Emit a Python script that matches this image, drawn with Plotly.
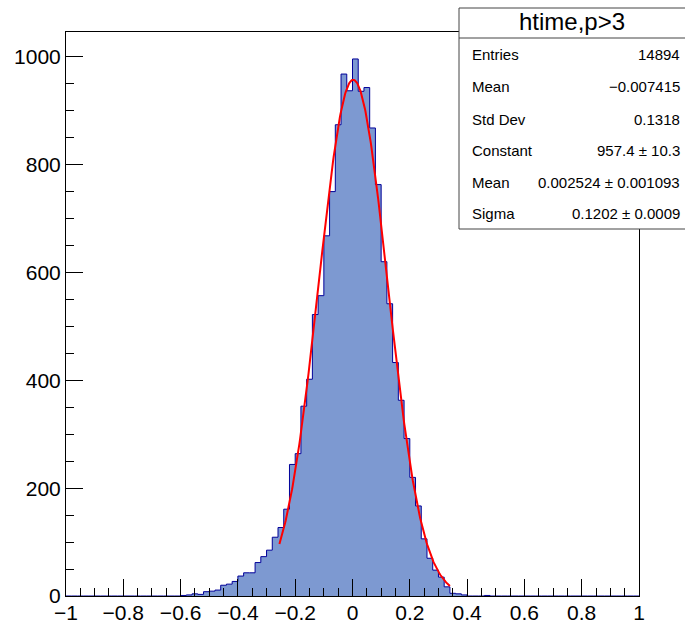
import numpy as np
import plotly.graph_objects as go

# ---------------- data ----------------
x_min, x_max, n_bins = -1.0, 1.0, 100
first_bin = 20  # index of first filled bin (lower edge -0.60)
filled_counts = [1, 2, 4, 3, 8, 9, 11, 20, 22, 27, 37, 43, 43, 62, 73, 85, 109, 127,
                 161, 244, 264, 352, 402, 522, 557, 668, 750, 874, 968, 937, 996,
                 936, 943, 868, 763, 620, 542, 433, 363, 292, 220, 167, 106, 70, 48,
                 35, 17, 5, 4, 2, 0, 0, 0, 1]
x_tick_vals = [-1, -0.8, -0.6, -0.4, -0.2, 0, 0.2, 0.4, 0.6, 0.8, 1]
x_tick_text = ["\u22121", "\u22120.8", "\u22120.6", "\u22120.4", "\u22120.2", "0",
               "0.2", "0.4", "0.6", "0.8", "1"]
y_tick_vals = [0, 200, 400, 600, 800, 1000]
y_tick_text = ["0", "200", "400", "600", "800", "1000"]

# gaussian fit parameters (from stats box) and fit range
fit_const, fit_mean, fit_sigma = 957.4, 0.002524, 0.1202
fit_lo, fit_hi = -0.255, 0.34

stats_title = "htime,p>3"
stats_labels = ["Entries", "Mean", "Std Dev", "Constant", "Mean", "Sigma"]
stats_values = ["14894", "\u22120.007415", "0.1318", "957.4 \u00b1 10.3",
                "0.002524 \u00b1 0.001093", "0.1202 \u00b1 0.0009"]

# ---------------- build ----------------
counts = [0] * first_bin + filled_counts
counts += [0] * (n_bins - len(counts))
edges = np.linspace(x_min, x_max, n_bins + 1)
step_x = list(edges)
step_y = counts + [counts[-1]]

fx = np.linspace(fit_lo, fit_hi, 300)
fy = fit_const * np.exp(-0.5 * ((fx - fit_mean) / fit_sigma) ** 2)

fig = go.Figure()
fig.add_trace(go.Scatter(x=step_x, y=step_y, mode="lines", line_shape="hv",
                         line=dict(color="#000099", width=1),
                         fill="tozeroy", fillcolor="#7d99d1", hoverinfo="skip"))
fig.add_trace(go.Scatter(x=fx, y=fy, mode="lines",
                         line=dict(color="#ff0000", width=2), hoverinfo="skip"))

W, H = 685, 623
L, R, T, B = 66, 46, 32, 27
pw, ph = W - L - R, H - T - B
ymax = 1046

def PX(px):
    return (px - L) / pw

def PY(py):
    return (H - B - py) / ph

font = "Liberation Sans, Arial, Helvetica, sans-serif"

fig.update_layout(
    width=W, height=H, margin=dict(l=L, r=R, t=T, b=B, pad=0, autoexpand=False),
    plot_bgcolor="white", paper_bgcolor="white", showlegend=False,
    font=dict(family=font, color="black"),
    xaxis=dict(range=[x_min, x_max], showline=True, linecolor="black", linewidth=1,
               mirror=True, ticks="inside", ticklen=17, tickwidth=1, tickcolor="black",
               tickmode="array", tickvals=x_tick_vals, ticktext=x_tick_text,
               tickfont=dict(family=font, size=21, color="black"),
               showgrid=False, zeroline=False, automargin=False,
               ticklabelstandoff=-2,
               minor=dict(ticks="inside", ticklen=8, tickwidth=1, tickcolor="black",
                          tickmode="linear", tick0=-1, dtick=0.05, showgrid=False)),
    yaxis=dict(range=[0, ymax], showline=True, linecolor="black", linewidth=1,
               mirror=True, ticks="inside", ticklen=17, tickwidth=1, tickcolor="black",
               tickmode="array", tickvals=y_tick_vals, ticktext=y_tick_text,
               tickfont=dict(family=font, size=21, color="black"),
               showgrid=False, zeroline=False, automargin=False,
               ticklabelstandoff=0,
               minor=dict(ticks="inside", ticklen=8, tickwidth=1, tickcolor="black",
                          tickmode="linear", tick0=0, dtick=50, showgrid=False)),
)

# stats box
fig.add_shape(type="rect", xref="paper", yref="paper",
              x0=PX(459), x1=PX(692), y0=PY(229), y1=PY(8),
              line=dict(color="#444444", width=1), fillcolor="white", layer="above")
fig.add_shape(type="line", xref="paper", yref="paper",
              x0=PX(459), x1=PX(692), y0=PY(38), y1=PY(38),
              line=dict(color="#444444", width=1), layer="above")
fig.add_annotation(text=stats_title, xref="paper", yref="paper", x=PX(572), y=PY(21),
                   xanchor="center", yanchor="middle", showarrow=False,
                   font=dict(family=font, size=24, color="black"))
row_y = [55, 87, 119, 150, 182, 213]
for lab, val, yy in zip(stats_labels, stats_values, row_y):
    fig.add_annotation(text=lab, xref="paper", yref="paper", x=PX(470), y=PY(yy),
                       xanchor="left", yanchor="middle", showarrow=False,
                       font=dict(family=font, size=15, color="black"))
    fig.add_annotation(text=val, xref="paper", yref="paper", x=PX(682), y=PY(yy),
                       xanchor="right", yanchor="middle", showarrow=False,
                       font=dict(family=font, size=15, color="black"))

fig.write_html("out.html")
